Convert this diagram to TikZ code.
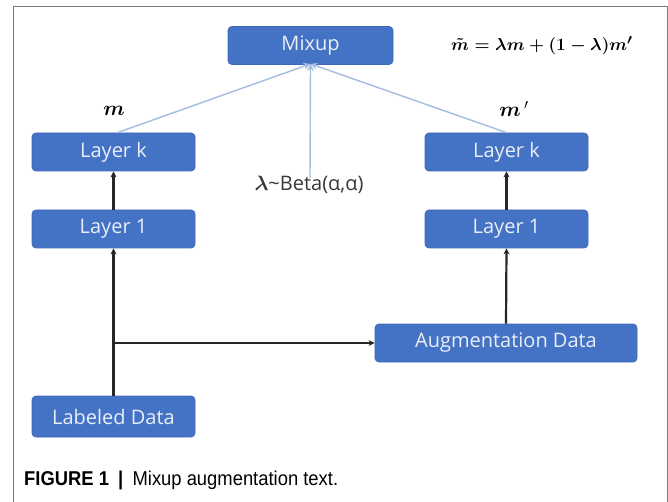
\documentclass[tikz,border=0pt]{standalone}
\usepackage{fontspec}
\usepackage{amsmath}
\usepackage{amssymb}
\setmainfont{Liberation Sans}
\newfontfamily\boxfont{Open Sans}
\usetikzlibrary{arrows.meta}
\definecolor{boxblue}{HTML}{4472C4}
\definecolor{boxedge}{HTML}{3E69B8}
\definecolor{mixline}{HTML}{A4BBE3}
\definecolor{framegray}{HTML}{7A7A7A}
\begin{document}
\begin{tikzpicture}[x=1pt,y=-1pt,
  layerbox/.style={draw=boxedge, fill=boxblue, rounded corners=4pt, line width=0.8pt,
    minimum height=38pt, text=white!88!boxblue,
    font=\boxfont\fontsize{20}{24}\selectfont, inner sep=0pt},
  flow/.style={line width=2.2pt, black!85, -{Stealth[length=6pt,width=6pt]}},
  mixflow/.style={line width=1.4pt, mixline, -{Stealth[length=7pt,width=7pt]}}]
  \useasboundingbox (0,0) rectangle (668,502);
  % open frame around the figure
  \draw[framegray, line width=1pt] (13,502) -- (13,7) -- (667,7) -- (667,502);

  % boxes
  \node[layerbox, minimum width=165pt] (mix) at (310.5,45.5) {Mixup};
  \node[layerbox, minimum width=163pt] (lkL) at (113.5,152) {Layer k};
  \node[layerbox, minimum width=163pt] (l1L) at (113.5,229) {Layer 1};
  \node[layerbox, minimum width=163pt] (lkR) at (506.5,152) {Layer k};
  \node[layerbox, minimum width=163pt] (l1R) at (506.5,229) {Layer 1};
  \node[layerbox, minimum width=262pt] (aug) at (506,343) {Augmentation Data};
  \node[layerbox, minimum width=163pt, minimum height=41pt] (lab) at (113.5,416.5) {Labeled Data};

  % labels and formula
  \node[font=\fontsize{21}{24}\selectfont] (mL) at (114,111) {$\boldsymbol{m}$};
  \node[font=\fontsize{21}{24}\selectfont] (mR) at (514,109) {$\boldsymbol{m}\,'$};
  \node[font=\fontsize{19}{24}\selectfont, anchor=west, inner sep=0pt] (eq) at (451,46)
    {$\boldsymbol{\tilde{m}=\lambda m+(1-\lambda)m'}$};
  \node[font=\boxfont\fontsize{20}{24}\selectfont, text=black!78, inner sep=1pt] (lam) at (309,185)
    {$\boldsymbol{\lambda}$\symbol{"7E}Beta(α,α)};

  % main data flow
  \coordinate (split) at (lab.north |- aug.west);
  \draw[flow] (lab.north) -- (l1L.south);
  \draw[flow] (split) -- (aug.west);
  \draw[flow] (aug.north) -- (l1R.south);
  \draw[flow] (l1L.north) -- (lkL.south);
  \draw[flow] (l1R.north) -- (lkR.south);

  % mixing connectors
  \coordinate (mixin) at ([yshift=1pt]mix.south);
  \draw[mixflow] ([xshift=4pt]lkL.north) -- (mixin);
  \draw[mixflow] (lkR.north) -- (mixin);
  \draw[mixflow] ([xshift=1pt,yshift=-3pt]lam.north) -- (mixin);

  % caption
  \node[anchor=west, font=\fontsize{20}{24}\selectfont, inner sep=0pt, xscale=0.92] (cap) at (24,480)
    {\textbf{FIGURE 1}\enspace\textbf{|}\enspace Mixup augmentation text.};
\end{tikzpicture}
\end{document}
